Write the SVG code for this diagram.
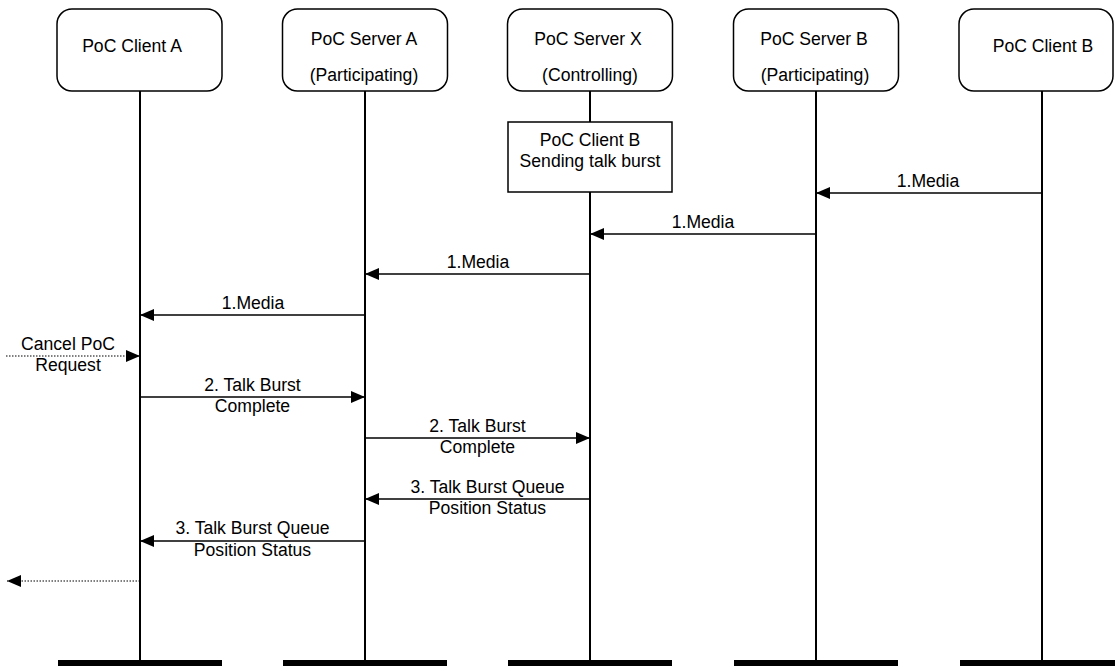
<svg xmlns="http://www.w3.org/2000/svg" width="1115" height="666" viewBox="0 0 1115 666">
<style>
  text { font-family: "Liberation Sans", Arial, sans-serif; font-size: 17.6px; fill: #000; text-anchor: middle; }
  .head { fill: #fff; stroke: #000; stroke-width: 1.5; }
  .life { stroke: #000; stroke-width: 2; }
  .bar { fill: #000; }
  .msg { stroke: #000; stroke-width: 1.5; fill: none; }
  .dot { stroke: #000; stroke-width: 1.2; stroke-dasharray: 1.5 1.5; fill: none; }
  .act { fill: #fff; stroke: #000; stroke-width: 1.5; }
</style>
<defs>
  <marker id="ah" markerWidth="14" markerHeight="12" refX="14" refY="6" orient="auto" markerUnits="userSpaceOnUse">
    <path d="M0,0 L14,6 L0,12 Z" fill="#000"/>
  </marker>
</defs>

<g id="lifelines">
  <line class="life" x1="140" y1="91" x2="140" y2="660"/>
  <line class="life" x1="365" y1="91" x2="365" y2="660"/>
  <line class="life" x1="590" y1="91" x2="590" y2="660"/>
  <line class="life" x1="816" y1="91" x2="816" y2="660"/>
  <line class="life" x1="1042" y1="91" x2="1042" y2="660"/>
  <rect class="bar" x="58" y="660" width="164" height="6"/>
  <rect class="bar" x="283" y="660" width="164" height="6"/>
  <rect class="bar" x="508" y="660" width="164" height="6"/>
  <rect class="bar" x="734" y="660" width="164" height="6"/>
  <rect class="bar" x="960" y="660" width="164" height="6"/>
</g>

<g id="clientA">
  <rect class="head" x="57" y="9" width="165" height="82" rx="15" ry="15"/>
  <text x="132" y="52">PoC Client A</text>
</g>
<g id="serverA">
  <rect class="head" x="282.5" y="9" width="165" height="82" rx="15" ry="15"/>
  <text x="364" y="45">PoC Server A</text>
  <text x="364" y="81">(Participating)</text>
</g>
<g id="serverX">
  <rect class="head" x="507.5" y="9" width="165" height="82" rx="15" ry="15"/>
  <text x="588" y="45">PoC Server X</text>
  <text x="590" y="81">(Controlling)</text>
</g>
<g id="serverB">
  <rect class="head" x="733.5" y="9" width="165" height="82" rx="15" ry="15"/>
  <text x="814" y="45">PoC Server B</text>
  <text x="815" y="81">(Participating)</text>
</g>
<g id="clientB">
  <rect class="head" x="959" y="9" width="154" height="82" rx="15" ry="15"/>
  <text x="1043" y="52">PoC Client B</text>
</g>

<g id="activity">
  <rect class="act" x="508" y="122" width="164" height="70"/>
  <text x="590" y="146">PoC Client B</text>
  <text x="590" y="167">Sending talk burst</text>
</g>

<g id="connectors">
  <line class="msg" x1="1042" y1="193" x2="816" y2="193" marker-end="url(#ah)"/>
  <line class="msg" x1="816" y1="234" x2="590" y2="234" marker-end="url(#ah)"/>
  <line class="msg" x1="590" y1="274" x2="365" y2="274" marker-end="url(#ah)"/>
  <line class="msg" x1="365" y1="315" x2="140" y2="315" marker-end="url(#ah)"/>
  <line class="dot" x1="6" y1="356" x2="140" y2="356" marker-end="url(#ah)"/>
  <line class="msg" x1="140" y1="397" x2="365" y2="397" marker-end="url(#ah)"/>
  <line class="msg" x1="365" y1="438" x2="590" y2="438" marker-end="url(#ah)"/>
  <line class="msg" x1="590" y1="499" x2="365" y2="499" marker-end="url(#ah)"/>
  <line class="msg" x1="365" y1="541" x2="140" y2="541" marker-end="url(#ah)"/>
  <line class="dot" x1="140" y1="581" x2="7" y2="581" marker-end="url(#ah)"/>
</g>

<g id="labels">
  <text x="928" y="187">1.Media</text>
  <text x="703" y="228">1.Media</text>
  <text x="478" y="268">1.Media</text>
  <text x="253" y="309">1.Media</text>
  <text x="68" y="350">Cancel PoC</text>
  <text x="68" y="371">Request</text>
  <text x="252.5" y="391">2. Talk Burst</text>
  <text x="252.5" y="412">Complete</text>
  <text x="477.5" y="432">2. Talk Burst</text>
  <text x="477.5" y="453">Complete</text>
  <text x="487.5" y="493">3. Talk Burst Queue</text>
  <text x="487.5" y="514">Position Status</text>
  <text x="252.5" y="534">3. Talk Burst Queue</text>
  <text x="252.5" y="556">Position Status</text>
</g>
</svg>
